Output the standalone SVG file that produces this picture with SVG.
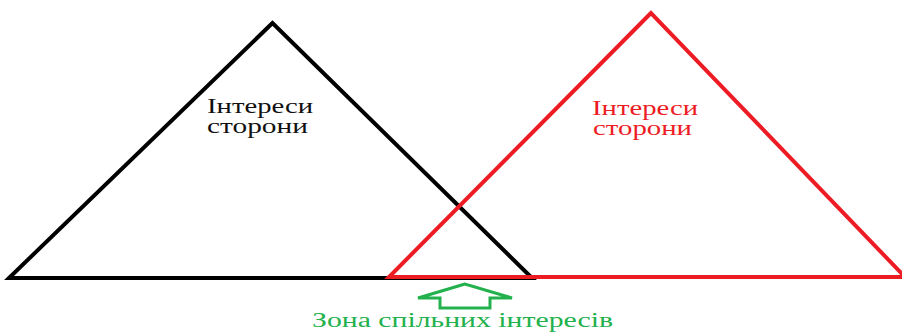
<svg xmlns="http://www.w3.org/2000/svg" width="902" height="332" viewBox="0 0 902 332">
<style>
.tri{fill:none;stroke-width:4;stroke-linejoin:miter}
.t{font-family:"Liberation Serif","Times New Roman",serif;font-size:20px}
</style>
<rect width="902" height="332" fill="#fff"/>
<g id="left-triangle">
<polygon class="tri" stroke="#000" points="272.5,23 9,278 532,278"/>
<text class="t" x="207" y="113" fill="#111" textLength="106" lengthAdjust="spacingAndGlyphs">Інтереси</text>
<text class="t" x="207" y="133" fill="#111" textLength="101" lengthAdjust="spacingAndGlyphs">сторони</text>
</g>
<g id="right-triangle">
<polygon class="tri" stroke="#ed1c24" points="651,13 389,277 905,277"/>
<text class="t" x="592" y="115" fill="#ed1c24" textLength="106" lengthAdjust="spacingAndGlyphs">Інтереси</text>
<text class="t" x="593" y="135" fill="#ed1c24" textLength="99" lengthAdjust="spacingAndGlyphs">сторони</text>
</g>
<g id="connectors">
<polygon fill="none" stroke="#22b14c" stroke-width="3" points="465,284 418,298 440,298 440,308 490,308 490,298 512,298"/>
</g>
<g id="common-zone">
<text class="t" x="312" y="327" fill="#22b14c" textLength="301" lengthAdjust="spacingAndGlyphs">Зона спільних інтересів</text>
</g>
</svg>
